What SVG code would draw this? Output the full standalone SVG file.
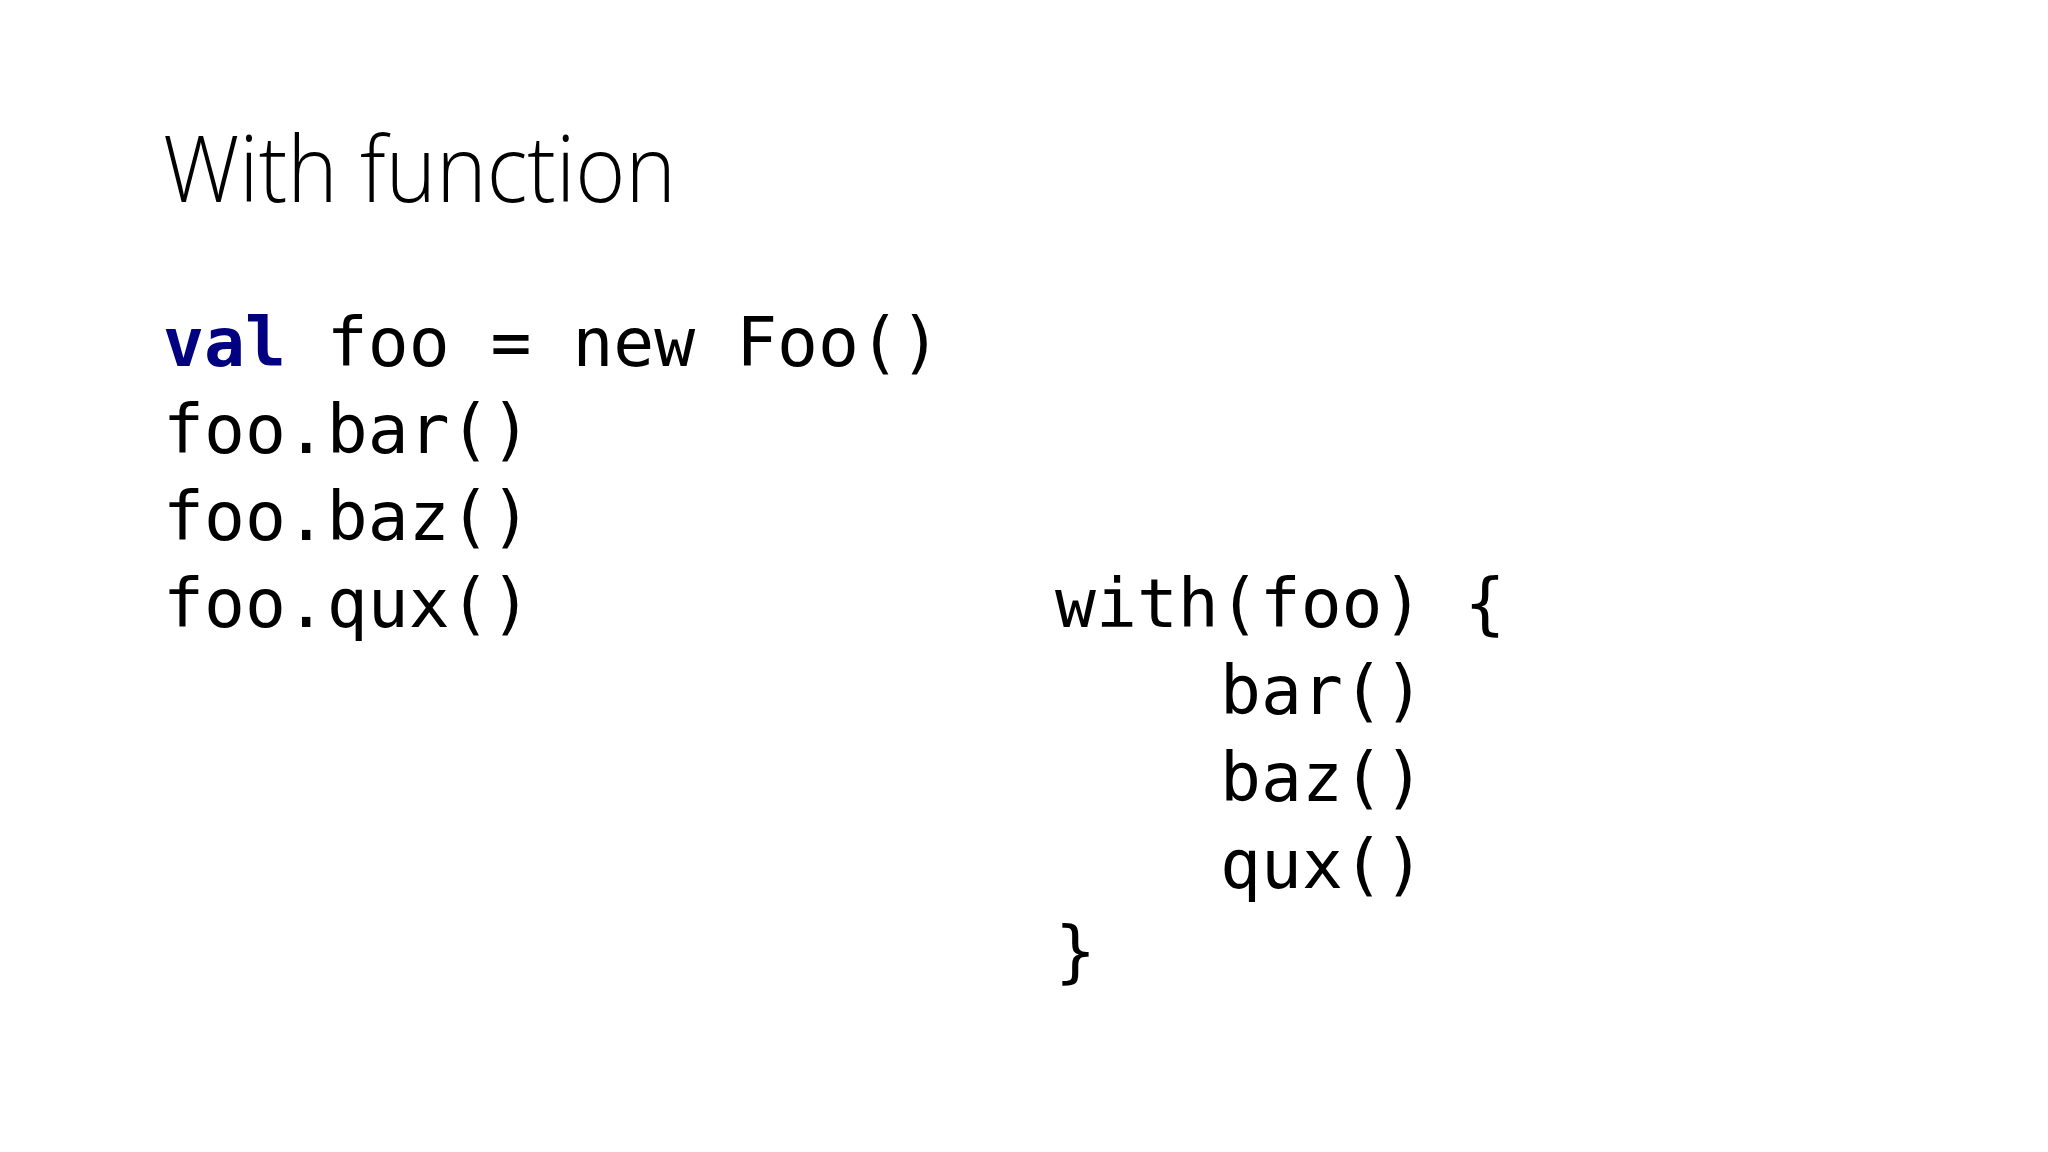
<svg xmlns="http://www.w3.org/2000/svg" width="2048" height="1152" viewBox="0 0 2048 1152">
<style>
.code{font-family:"DejaVu Sans Mono",monospace;font-size:68px;fill:#000}
.kw{fill:#000080;font-weight:bold}
.title{font-family:"Open Sans","Liberation Sans",sans-serif;font-weight:300;font-size:92px;fill:#000}
</style>
<rect width="2048" height="1152" fill="#fff"/>
<g id="title"><text class="title" x="163" y="202" textLength="513" lengthAdjust="spacingAndGlyphs">With function</text></g>
<g id="left-code" class="code">
<text x="163" y="366"><tspan class="kw">val</tspan> foo = new Foo()</text>
<text x="163" y="453">foo.bar()</text>
<text x="163" y="540">foo.baz()</text>
<text x="163" y="627">foo.qux()</text>
</g>
<g id="right-code" class="code">
<text x="1055" y="627">with(foo) {</text>
<text x="1220" y="714">bar()</text>
<text x="1220" y="801">baz()</text>
<text x="1220" y="888">qux()</text>
<text x="1055" y="975">}</text>
</g>
<g id="connectors"/>
</svg>
